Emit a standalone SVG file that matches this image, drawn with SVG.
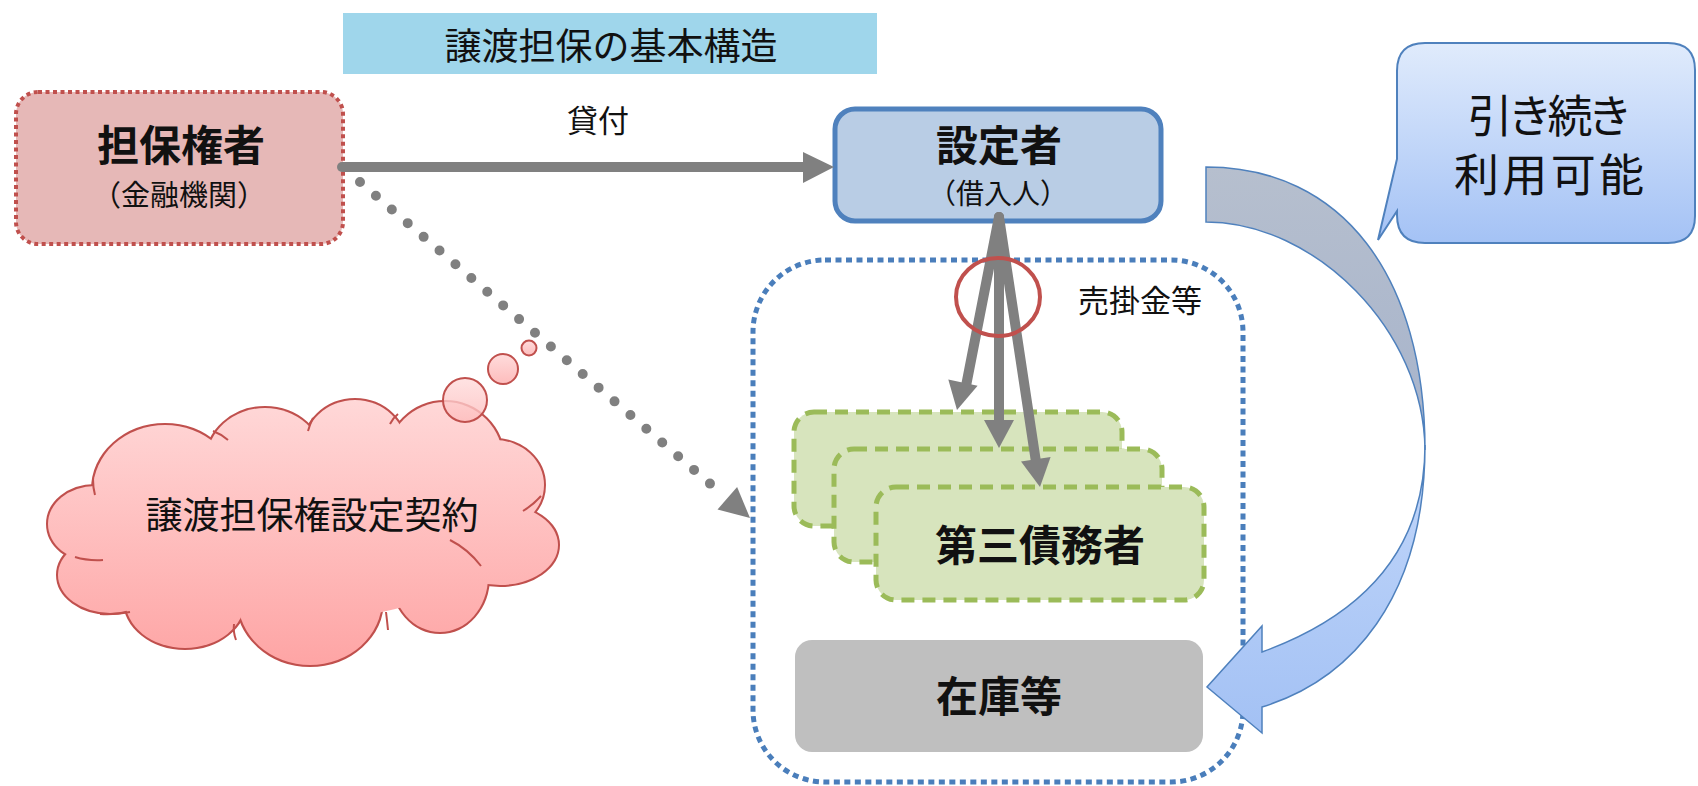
<svg xmlns="http://www.w3.org/2000/svg" width="1698" height="786" viewBox="0 0 1698 786">
  <defs>
    <style>
      text { font-family: "Noto Sans CJK JP", "Noto Sans", sans-serif; fill: #111; text-anchor: middle; }
      .b { font-weight: bold; }
      .gray { stroke: #808080; stroke-width: 10; fill: none; stroke-linecap: round; }
      .head { fill: #808080; }
      .green { fill: #d7e4bd; stroke: #9bbb59; stroke-width: 5; stroke-dasharray: 13 8; }
      .lobe-o { fill: #c0504d; stroke: #c0504d; stroke-width: 4; }
      .lobe-f { fill: url(#cloudGrad); }
      .stub { fill: none; stroke: #c0504d; stroke-width: 2; }
    </style>
    <linearGradient id="cloudGrad" gradientUnits="userSpaceOnUse" x1="0" y1="395" x2="0" y2="668">
      <stop offset="0" stop-color="#ffd9d9"/>
      <stop offset="1" stop-color="#fea4a4"/>
    </linearGradient>
    <linearGradient id="circGrad" x1="0" y1="0" x2="0" y2="1">
      <stop offset="0" stop-color="#ffdcdc"/>
      <stop offset="1" stop-color="#fdbcbc"/>
    </linearGradient>
    <linearGradient id="bubbleGrad" x1="0" y1="0" x2="0" y2="1">
      <stop offset="0" stop-color="#e0ebfc"/>
      <stop offset="1" stop-color="#a4c2f5"/>
    </linearGradient>
    <linearGradient id="upperGrad" x1="0" y1="0" x2="0" y2="1">
      <stop offset="0" stop-color="#b6bfce"/>
      <stop offset="1" stop-color="#a6b3cb"/>
    </linearGradient>
    <linearGradient id="lowerGrad" x1="0" y1="0" x2="0" y2="1">
      <stop offset="0" stop-color="#c2d7fa"/>
      <stop offset="1" stop-color="#a3c1f4"/>
    </linearGradient>
  </defs>

  <rect width="1698" height="786" fill="#ffffff"/>

  <g id="title">
    <rect x="343" y="13" width="534" height="61" fill="#9fd6eb"/>
    <text x="611" y="60" font-size="37">譲渡担保の基本構造</text>
  </g>

  <g id="tanpokensha">
    <rect x="16" y="92" width="327" height="152" rx="22" fill="#e6b8b7" stroke="#c0504d" stroke-width="4" stroke-dasharray="4 3.5"/>
    <text class="b" x="181" y="161" font-size="42">担保権者</text>
    <text x="179" y="206" font-size="29">（金融機関）</text>
  </g>

  <g id="container">
    <rect x="753" y="260" width="490" height="522" rx="72" fill="none" stroke="#4a7ebb" stroke-width="5" stroke-dasharray="6 4.5"/>
    <text x="1140" y="312" font-size="31">売掛金等</text>
  </g>

  <g id="settei">
    <rect x="835" y="109" width="326" height="112" rx="20" fill="#b9cde5" stroke="#4f81bd" stroke-width="5"/>
    <text class="b" x="999" y="161" font-size="42">設定者</text>
    <text x="998" y="204" font-size="28">（借入人）</text>
  </g>

  <g id="daisan">
    <rect class="green" x="794" y="412" width="328" height="114" rx="20"/>
    <rect class="green" x="834" y="449" width="328" height="113" rx="20"/>
    <rect class="green" x="876" y="487" width="328" height="113" rx="20"/>
    <text class="b" x="1040" y="561" font-size="42">第三債務者</text>
  </g>

  <g id="zaiko">
    <rect x="795" y="640" width="408" height="112" rx="17" fill="#bfbfbf"/>
    <text class="b" x="999" y="712" font-size="42">在庫等</text>
  </g>

  <g id="cloud">
    <g>
      <ellipse class="lobe-o" cx="95" cy="524" rx="47" ry="38"/>
      <ellipse class="lobe-o" cx="165" cy="490" rx="72" ry="65"/>
      <ellipse class="lobe-o" cx="265" cy="460" rx="58" ry="52"/>
      <ellipse class="lobe-o" cx="355" cy="450" rx="52" ry="50"/>
      <ellipse class="lobe-o" cx="445" cy="460" rx="58" ry="58"/>
      <ellipse class="lobe-o" cx="495" cy="485" rx="49" ry="45"/>
      <ellipse class="lobe-o" cx="500" cy="545" rx="58" ry="40"/>
      <ellipse class="lobe-o" cx="440" cy="577" rx="48" ry="55"/>
      <ellipse class="lobe-o" cx="310" cy="600" rx="72" ry="65"/>
      <ellipse class="lobe-o" cx="185" cy="600" rx="60" ry="48"/>
      <ellipse class="lobe-o" cx="110" cy="575" rx="52" ry="38"/>
    </g>
    <g>
      <ellipse class="lobe-f" cx="95" cy="524" rx="47" ry="38"/>
      <ellipse class="lobe-f" cx="165" cy="490" rx="72" ry="65"/>
      <ellipse class="lobe-f" cx="265" cy="460" rx="58" ry="52"/>
      <ellipse class="lobe-f" cx="355" cy="450" rx="52" ry="50"/>
      <ellipse class="lobe-f" cx="445" cy="460" rx="58" ry="58"/>
      <ellipse class="lobe-f" cx="495" cy="485" rx="49" ry="45"/>
      <ellipse class="lobe-f" cx="500" cy="545" rx="58" ry="40"/>
      <ellipse class="lobe-f" cx="440" cy="577" rx="48" ry="55"/>
      <ellipse class="lobe-f" cx="310" cy="600" rx="72" ry="65"/>
      <ellipse class="lobe-f" cx="185" cy="600" rx="60" ry="48"/>
      <ellipse class="lobe-f" cx="110" cy="575" rx="52" ry="38"/>
      <ellipse class="lobe-f" cx="300" cy="530" rx="200" ry="90"/>
    </g>
    <path class="stub" d="M75,557 Q88,561 103,560"/>
    <path class="stub" d="M100,614 Q114,615 130,612"/>
    <path class="stub" d="M236,640 Q233,632 234,624"/>
    <path class="stub" d="M388,630 Q387,620 386,612"/>
    <path class="stub" d="M450,540 Q468,549 481,566"/>
    <path class="stub" d="M523,511 Q533,505 541,496"/>
    <path class="stub" d="M390,424 Q393,418 398,414"/>
    <path class="stub" d="M308,431 Q310,424 313,418"/>
    <path class="stub" d="M213,431 Q221,434 228,440"/>
    <path class="stub" d="M93,479 Q93,488 95,495"/>
    <circle cx="465" cy="400" r="22" fill="url(#circGrad)" fill-opacity="0.8" stroke="#c0504d" stroke-width="2"/>
    <circle cx="503" cy="369" r="15" fill="url(#circGrad)" stroke="#c0504d" stroke-width="2"/>
    <circle cx="529" cy="348" r="7.5" fill="url(#circGrad)" stroke="#c0504d" stroke-width="2"/>
    <text x="312" y="529" font-size="37">譲渡担保権設定契約</text>
  </g>

  <g id="bubble">
    <path d="M1425,43 H1668 Q1695,43 1695,70 V216 Q1695,243 1668,243 H1425 Q1397,243 1397,215 V211 L1378,240 L1397,159 V71 Q1397,43 1425,43 Z" fill="url(#bubbleGrad)" stroke="#4f81bd" stroke-width="2"/>
    <text x="1550" y="133" font-size="45" textLength="165" lengthAdjust="spacing">引き続き</text>
    <text x="1549" y="192" font-size="45" textLength="190" lengthAdjust="spacing">利用可能</text>
  </g>

  <g id="connectors">
    <line class="gray" x1="342" y1="167" x2="806" y2="167"/>
    <polygon class="head" points="803,152 834,167 803,183"/>
    <text x="598" y="132" font-size="31">貸付</text>

    <line x1="360" y1="182" x2="722" y2="494" stroke="#808080" stroke-width="10" stroke-linecap="round" stroke-dasharray="0 21"/>
    <polygon class="head" points="750,518 717.5,509.6 737.1,487"/>

    <line class="gray" x1="999" y1="217" x2="966" y2="386"/>
    <polygon class="head" points="957,410 977.6,385.8 948.3,379.4"/>
    <line class="gray" x1="999" y1="217" x2="999" y2="424"/>
    <polygon class="head" points="999,448 984,420 1014,420"/>
    <line class="gray" x1="999" y1="217" x2="1036" y2="462"/>
    <polygon class="head" points="1040,487 1050.6,457.1 1021,461.6"/>

    <ellipse cx="998" cy="297" rx="42" ry="39" fill="none" stroke="#c0504d" stroke-width="4"/>

    <path d="M1206,167 C1342,167 1425,276 1425,450 C1424,330 1315,222 1206,222 Z" fill="url(#upperGrad)" stroke="#4f81bd" stroke-width="1.5"/>
    <path d="M1425,445 C1425,600 1350,680 1262,707 L1262,733 L1207,687 L1262,626 L1262,652 C1350,620 1425,560 1425,445 Z" fill="url(#lowerGrad)" stroke="#4f81bd" stroke-width="1.5"/>
  </g>
</svg>
